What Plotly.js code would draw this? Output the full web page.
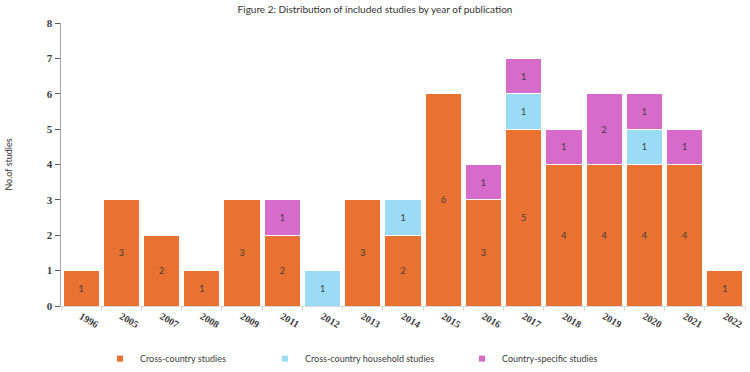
<!DOCTYPE html>
<html>
<head>
<meta charset="utf-8">
<script src="https://cdn.plot.ly/plotly-3.0.1.min.js"></script>
<style>html,body{margin:0;padding:0;background:#fff}#chart{width:750px;height:372px}</style>
</head>
<body>
<div id="chart"></div>
<script>
const years = ['1996','2005','2007','2008','2009','2011','2012','2013','2014','2015','2016','2017','2018','2019','2020','2021','2022'];
const crossCountry = [1,3,2,1,3,2,0,3,2,6,3,5,4,4,4,4,1];
const crossHousehold = [0,0,0,0,0,0,1,0,1,0,0,1,0,0,1,0,0];
const countrySpecific = [0,0,0,0,0,1,0,0,0,0,1,1,1,2,1,1,0];
const seriesNames = ['Cross-country studies','Cross-country household studies','Country-specific studies'];
const colors = ['#E97132','#9BDBF5','#D76BC9'];

const lab = arr => arr.map(v => v ? String(v) : '');
const series = [crossCountry, crossHousehold, countrySpecific];
const traces = series.map((vals, i) => ({
  type: 'bar', x: years, y: vals, name: seriesNames[i],
  marker: {color: colors[i], line: {color: '#ffffff', width: 1}},
  text: lab(vals), textposition: 'inside', insidetextanchor: 'middle',
  textfont: {family: 'Lato', size: 9, color: '#404040'},
  showlegend: false, hoverinfo: 'skip'
}));
const legendNames = ['legend','legend2','legend3'];
seriesNames.forEach((n, i) => {
  traces.push({type: 'scatter', mode: 'markers', x: [null], y: [null], name: n,
    marker: {symbol: 'square', size: 6, color: colors[i]},
    showlegend: true, legend: legendNames[i]});
});
const legFont = {family: 'Lato', size: 9, color: '#404040'};
const legBase = {orientation: 'h', yanchor: 'middle', xanchor: 'left', y: 0.036, yref: 'container',
  xref: 'container', font: legFont, bgcolor: 'rgba(0,0,0,0)', itemwidth: 30, tracegroupgap: 0};

const layout = {
  width: 750, height: 372,
  margin: {l: 61, r: 5, t: 23, b: 66},
  paper_bgcolor: '#fff', plot_bgcolor: '#fff',
  title: {text: 'Figure 2: Distribution of included studies by year of publication',
    font: {family: 'Lato', size: 10, color: '#333'}, x: 0.5, xanchor: 'center', y: 0.985, yanchor: 'top', yref: 'container'},
  barmode: 'stack', bargap: 0.1,
  xaxis: {type: 'category', tickangle: 30, showline: true, linecolor: '#d9d9d9', linewidth: 1, automargin: false,
    ticks: 'outside', tickson: 'boundaries', ticklen: 4, tickcolor: '#d9d9d9',
    tickfont: {family: 'Liberation Serif', size: 10, color: '#404040', weight: 'bold'}, showgrid: false},
  yaxis: {range: [0, 8], dtick: 1, showline: true, linecolor: '#a6a6a6', linewidth: 1.5, automargin: false,
    ticks: 'outside', ticklen: 5, tickcolor: '#595959', showgrid: false, zeroline: false,
    tickfont: {family: 'Liberation Serif', size: 11, color: '#404040', weight: 'bold'},
    title: {text: 'No.of studies', font: {family: 'Lato', size: 9, color: '#333'}, standoff: 32}},
  legend: Object.assign({}, legBase, {x: 100 / 750}),
  legend2: Object.assign({}, legBase, {x: 265 / 750}),
  legend3: Object.assign({}, legBase, {x: 462 / 750}),
  showlegend: true
};
Plotly.newPlot('chart', traces, layout, {displayModeBar: false, staticPlot: true});
</script>
</body>
</html>
